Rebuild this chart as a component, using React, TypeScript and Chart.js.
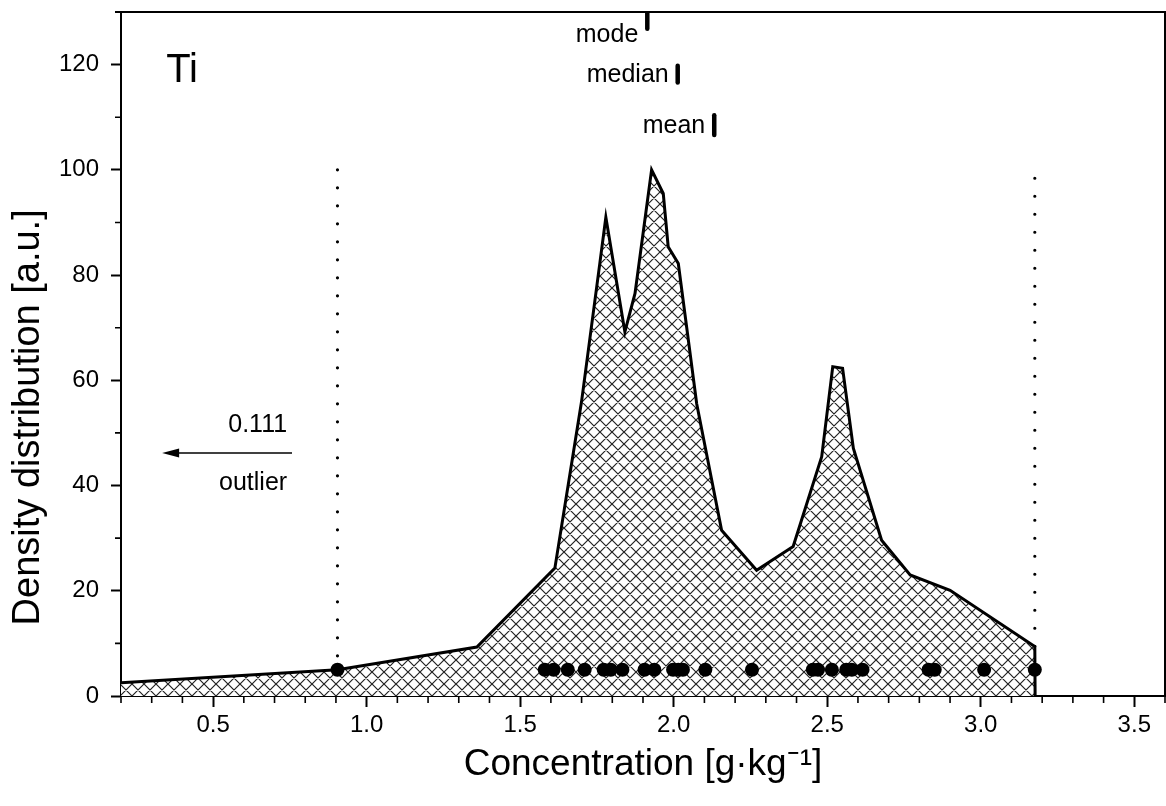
import React, { useEffect, useRef } from 'react';
import { Chart, registerables } from 'chart.js';

Chart.register(...registerables);

const FONT = "'Liberation Sans', Arial, sans-serif";

// Density distribution curve (concentration in g/kg, density in a.u.)
const densityX = [0.2, 0.905, 1.359, 1.613, 1.70, 1.760, 1.779, 1.841, 1.874, 1.928, 1.966, 1.982, 2.015, 2.075, 2.156, 2.270, 2.389, 2.482, 2.518, 2.550, 2.585, 2.677, 2.770, 2.900, 3.176, 3.177];
const densityY = [2.5, 5.0, 9.3, 24.3, 56.0, 82.5, 91.0, 69.2, 76.5, 100.0, 95.5, 85.4, 82.2, 55.5, 31.5, 23.9, 28.4, 45.5, 62.6, 62.3, 47.1, 29.6, 23.0, 20.1, 9.4, 0];

// Individual samples (rug of dots)
const sampleX = [0.905, 1.580, 1.609, 1.655, 1.710, 1.772, 1.795, 1.833, 1.905, 1.937, 1.998, 2.015, 2.030, 2.103, 2.255, 2.453, 2.470, 2.515, 2.562, 2.580, 2.615, 2.830, 2.850, 3.011, 3.176];
const sampleLevel = 5;

// Statistics markers
const statNames = ['mode', 'median', 'mean'];
const statX = [1.914, 2.013, 2.132];
const statYLow = [126.8, 116.6, 106.6];
const statYHigh = [131, 119.8, 110.4];
const statLabelY = [124.3, 116.7, 107.0];

// Fence lines (dotted)
const fenceX = [0.905, 3.176];
const fenceYLow = [5, 9.4];
const fenceYHigh = [100, 98.4];

// Outlier annotation
const outlierValue = '0.111';
const outlierLabel = 'outlier';
const elementLabel = 'Ti';

// Axis ticks
const xTicks = [0.5, 1.0, 1.5, 2.0, 2.5, 3.0, 3.5];
const yTicks = [0, 20, 40, 60, 80, 100, 120];
const xMin = 0.2, xMax = 3.6, yMin = 0, yMax = 130;

function makeHatch(): CanvasPattern | string {
  const pc = document.createElement('canvas');
  pc.width = 12; pc.height = 12;
  const g = pc.getContext('2d');
  if (!g) return '#ccc';
  g.fillStyle = '#ffffff';
  g.fillRect(0, 0, 12, 12);
  g.strokeStyle = '#222222';
  g.lineWidth = 1.2;
  g.beginPath();
  for (const o of [-12, 0, 12]) {
    g.moveTo(o, 0); g.lineTo(o + 12, 12);
    g.moveTo(o + 12, 0); g.lineTo(o, 12);
  }
  g.stroke();
  return g.createPattern(pc, 'repeat') || '#ccc';
}

const annotPlugin = {
  id: 'annot',
  afterDraw(chart: any) {
    const { ctx, chartArea: a, scales } = chart;
    const x = scales.x, y = scales.y;
    ctx.save();
    // frame (top & right)
    ctx.strokeStyle = '#000';
    ctx.lineWidth = 2;
    ctx.beginPath();
    ctx.moveTo(a.left - 6, a.top);
    ctx.lineTo(a.right, a.top);
    ctx.lineTo(a.right, a.bottom);
    ctx.stroke();
    // minor ticks
    ctx.lineWidth = 1.6;
    ctx.beginPath();
    for (let i = 2; i <= 36; i++) {
      if (i % 5 === 0) continue;
      const px = x.getPixelForValue(i / 10);
      ctx.moveTo(px, a.bottom);
      ctx.lineTo(px, a.bottom + 7);
    }
    for (let v = 10; v < yMax; v += 20) {
      const py = y.getPixelForValue(v);
      ctx.moveTo(a.left, py);
      ctx.lineTo(a.left - 6, py);
    }
    ctx.stroke();

    ctx.fillStyle = '#000';
    // element label
    ctx.font = `40px ${FONT}`;
    ctx.textAlign = 'left';
    ctx.textBaseline = 'alphabetic';
    ctx.fillText(elementLabel, x.getPixelForValue(0.347), y.getPixelForValue(116.7));

    // stat labels
    ctx.font = `25px ${FONT}`;
    ctx.textAlign = 'right';
    statNames.forEach((n, i) => {
      ctx.fillText(n, x.getPixelForValue(statX[i]) - 9, y.getPixelForValue(statLabelY[i]));
    });

    // outlier annotation
    ctx.fillText(outlierValue, x.getPixelForValue(0.741), y.getPixelForValue(50.2));
    ctx.fillText(outlierLabel, x.getPixelForValue(0.741), y.getPixelForValue(39.1));
    const ay = y.getPixelForValue(46.2);
    const ax1 = x.getPixelForValue(0.757);
    const ax0 = x.getPixelForValue(0.334);
    ctx.lineWidth = 1.5;
    ctx.beginPath();
    ctx.moveTo(ax1, ay);
    ctx.lineTo(ax0 + 10, ay);
    ctx.stroke();
    ctx.beginPath();
    ctx.moveTo(ax0, ay);
    ctx.lineTo(ax0 + 17, ay - 4.5);
    ctx.lineTo(ax0 + 17, ay + 4.5);
    ctx.closePath();
    ctx.fill();
    ctx.restore();
  },
};

export default function App() {
  const ref = useRef<HTMLCanvasElement | null>(null);
  useEffect(() => {
    if (!ref.current) return;
    const hatch = makeHatch();
    const datasets: any[] = [];
    datasets.push({
      data: sampleX.map((v) => ({ x: v, y: sampleLevel })),
      showLine: false,
      pointRadius: 7,
      pointBackgroundColor: '#000',
      pointBorderColor: '#000',
      pointBorderWidth: 0,
      order: 1,
    });
    statX.forEach((v, i) => {
      datasets.push({
        data: [{ x: v, y: statYLow[i] }, { x: v, y: statYHigh[i] }],
        showLine: true,
        borderColor: '#000',
        borderWidth: 4.5,
        borderCapStyle: 'round',
        pointRadius: 0,
        order: 2,
      });
    });
    fenceX.forEach((v, i) => {
      datasets.push({
        data: [{ x: v, y: fenceYHigh[i] }, { x: v, y: fenceYLow[i] }],
        showLine: true,
        borderColor: '#000',
        borderWidth: 3.2,
        borderDash: [0, 18],
        borderCapStyle: 'round',
        pointRadius: 0,
        order: 3,
      });
    });
    datasets.push({
      data: densityX.map((v, i) => ({ x: v, y: densityY[i] })),
      showLine: true,
      borderColor: '#000',
      borderWidth: 3,
      borderJoinStyle: 'miter',
      backgroundColor: hatch,
      fill: 'origin',
      pointRadius: 0,
      tension: 0,
      order: 4,
    });

    const chart = new Chart(ref.current, {
      type: 'scatter',
      data: { datasets },
      plugins: [annotPlugin],
      options: {
        animation: false,
        responsive: false,
        events: [],
        layout: { autoPadding: false, padding: { top: 12, right: 1, left: 0, bottom: 0 } },
        plugins: { legend: { display: false }, tooltip: { enabled: false } },
        scales: {
          x: {
            type: 'linear',
            min: xMin,
            max: xMax,
            afterBuildTicks: (s: any) => { s.ticks = xTicks.map((v) => ({ value: v })); },
            afterFit: (s: any) => { s.height = 110; s.paddingLeft = 0; s.paddingRight = 0; },
            ticks: {
              autoSkip: false,
              maxRotation: 0,
              padding: 4,
              color: '#000',
              font: { family: FONT, size: 24 },
              callback: (v: any) => Number(v).toFixed(1),
            },
            grid: { display: true, drawOnChartArea: false, drawTicks: true, tickLength: 11, tickWidth: 2, tickColor: '#000' },
            border: { display: true, color: '#000', width: 2 },
            title: {
              display: true,
              text: 'Concentration [g·kg⁻¹]',
              color: '#000',
              font: { family: FONT, size: 37 },
              padding: { top: 0, bottom: 19 },
            },
          },
          y: {
            type: 'linear',
            min: yMin,
            max: yMax,
            afterBuildTicks: (s: any) => { s.ticks = yTicks.map((v) => ({ value: v })); },
            afterFit: (s: any) => { s.width = 121; s.paddingTop = 0; s.paddingBottom = 0; },
            ticks: {
              autoSkip: false,
              padding: 12,
              color: '#000',
              font: { family: FONT, size: 24 },
              callback: (v: any) => String(v),
            },
            grid: { display: true, drawOnChartArea: false, drawTicks: true, tickLength: 10, tickWidth: 2, tickColor: '#000' },
            border: { display: true, color: '#000', width: 2 },
            title: {
              display: true,
              text: 'Density distribution [a.u.]            ',
              color: '#000',
              font: { family: FONT, size: 38 },
              padding: { top: 6, bottom: 0 },
            },
          },
        },
      } as any,
    });
    return () => chart.destroy();
  }, []);

  return (
    <canvas
      ref={ref}
      width={1166}
      height={806}
      style={{ position: 'fixed', left: 0, top: 0, width: 1166, height: 806, display: 'block', background: '#fff' }}
    />
  );
}
